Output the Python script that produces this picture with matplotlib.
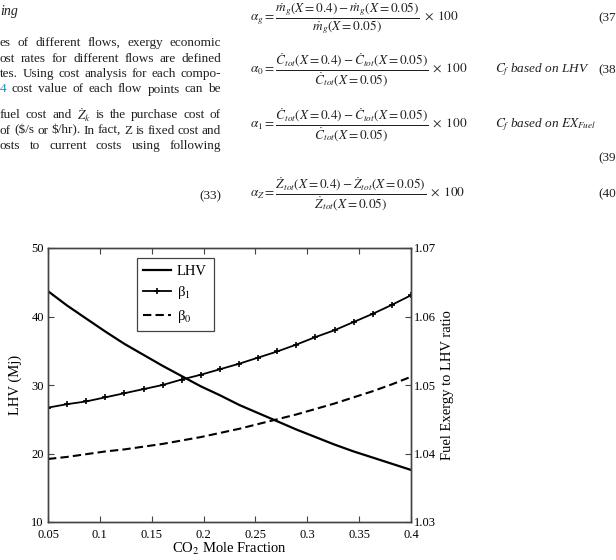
import matplotlib
matplotlib.use('Agg')
import matplotlib.pyplot as plt

plt.rcParams['font.family'] = ['Liberation Serif', 'DejaVu Serif']
plt.rcParams['mathtext.fontset'] = 'stix'

# data
co2 = [0.05, 0.0684, 0.0868, 0.1053, 0.1237, 0.1421, 0.1605, 0.1789, 0.1974, 0.2158,
       0.2342, 0.2526, 0.2711, 0.2895, 0.3079, 0.3263, 0.3447, 0.3632, 0.3816, 0.4]
lhv = [43.7, 41.6, 39.7, 37.8, 36.0, 34.4, 32.8, 31.3, 29.8, 28.5,
       27.1, 25.9, 24.7, 23.5, 22.4, 21.3, 20.3, 19.4, 18.5, 17.6]
beta1 = [1.0467, 1.0472, 1.0476, 1.0482, 1.0488, 1.0494, 1.0500, 1.0508, 1.0515, 1.0523,
         1.0531, 1.0540, 1.0549, 1.0559, 1.0570, 1.0580, 1.0592, 1.0604, 1.0617, 1.0631]
beta0 = [1.0392, 1.0395, 1.0399, 1.0403, 1.0406, 1.0410, 1.0414, 1.0419, 1.0424, 1.0430,
         1.0436, 1.0443, 1.0450, 1.0457, 1.0465, 1.0473, 1.0482, 1.0491, 1.0501, 1.0512]

xticks = [0.05, 0.1, 0.15, 0.2, 0.25, 0.3, 0.35, 0.4]
xtick_labels = ['0.05', '0.1', '0.15', '0.2', '0.25', '0.3', '0.35', '0.4']
lticks = [10, 20, 30, 40, 50]
rticks = [1.03, 1.04, 1.05, 1.06, 1.07]
rtick_labels = ['1.03', '1.04', '1.05', '1.06', '1.07']

# surrounding page text
para_lines = [
    "es of different flows, exergy economic",
    "ost rates for different flows are defined",
    "tes. Using cost analysis for each compo-",
    "4 cost value of each flow points can be",
    r"fuel cost and $\dot{Z}_k$ is the purchase cost of",
    r"of (\$/s or \$/hr). In fact, Z is fixed cost and",
    "osts to current costs using following",
]
para_y = [43, 58.5, 74, 89.5, 115, 130.5, 146]

equations = [
    r'$\alpha_g = \dfrac{\dot{m}_g(X = 0.4) - \dot{m}_g(X = 0.05)}{\dot{m}_g(X = 0.05)}\;\times\;100$',
    r'$\alpha_0 = \dfrac{\dot{C}_{tot}(X = 0.4) - \dot{C}_{tot}(X = 0.05)}{\dot{C}_{tot}(X = 0.05)}\;\times\;100$',
    r'$\alpha_1 = \dfrac{\dot{C}_{tot}(X = 0.4) - \dot{C}_{tot}(X = 0.05)}{\dot{C}_{tot}(X = 0.05)}\;\times\;100$',
    r'$\alpha_Z = \dfrac{\dot{Z}_{tot}(X = 0.4) - \dot{Z}_{tot}(X = 0.05)}{\dot{Z}_{tot}(X = 0.05)}\;\times\;100$',
]
eq_y = [18, 70, 125, 194]
eq_notes = ['', r'$C_f$ based on LHV', r'$C_f$ based on $EX_{Fuel}$', '']
eq_nums = ['(37)', '(38)', '(39)', '(40)']
eq_num_y = [18, 70, 158, 194]

W, H = 616, 560
txt_col = '#231f20'
fig = plt.figure(figsize=(W / 100, H / 100), dpi=100)
renderer = fig.canvas.get_renderer()


def fy(y):
    return 1 - y / H


def put_line(line, y, x0, x1):
    words = line.split(' ')
    ts = []
    for w in words:
        c = '#1f8dc1' if w == '4' else txt_col
        ts.append(fig.text(0, fy(y), w, fontsize=9.5, va='center', ha='left', color=c))
    ws = [t.get_window_extent(renderer).width for t in ts]
    gap = (x1 - x0 - sum(ws)) / (len(ws) - 1)
    x = x0
    for t, w in zip(ts, ws):
        t.set_x(x / W)
        x += w + gap


fig.text(0, fy(12), 'ing', fontsize=10, style='italic', va='center', color=txt_col)
for line, y in zip(para_lines, para_y):
    put_line(line, y, 0, 221)
fig.text(221 / W, fy(196), '(33)', fontsize=9.5, ha='right', va='center', color=txt_col)

for eq, y, note in zip(equations, eq_y, eq_notes):
    fig.text(250 / W, fy(y), eq, fontsize=9.5, va='center', color=txt_col)
    if note:
        fig.text(495 / W, fy(y), note, fontsize=9.5, style='italic', va='center', color=txt_col)
for num, y in zip(eq_nums, eq_num_y):
    fig.text(598 / W, fy(y), num, fontsize=9.5, va='center', color=txt_col)

# chart
ax = fig.add_axes([48 / W, fy(522), 363 / W, 274 / H])
ax2 = ax.twinx()

l1, = ax.plot(co2, lhv, color='k', lw=1.6)
l2, = ax2.plot(co2, beta1, color='k', lw=1.3, marker='+', ms=5, mew=1.2)
l3, = ax2.plot(co2, beta0, color='k', lw=1.5, ls='--', dashes=(4, 2))

ax.set_xlim(0.05, 0.4)
ax.set_ylim(10, 50)
ax2.set_ylim(1.03, 1.07)
ax.set_xticks(xticks)
ax.set_xticklabels(xtick_labels)
ax.set_yticks(lticks)
ax2.set_yticks(rticks)
ax2.set_yticklabels(rtick_labels)

for a in (ax, ax2):
    for s in a.spines.values():
        s.set_color('#444444')
        s.set_linewidth(1.0)
ax.tick_params(axis='x', direction='in', top=True, length=4, labelsize=9, pad=5, color='#444444')
ax.tick_params(axis='y', direction='in', length=4, labelsize=9, pad=3, color='#444444')
ax2.tick_params(axis='y', direction='in', length=4, labelsize=9, pad=2, color='#444444')

fig.text(15 / W, fy(385), 'LHV (Mj)', rotation=90, fontsize=10.5, ha='center', va='center')
fig.text(448 / W, fy(385), 'Fuel Exergy to LHV ratio', rotation=90, fontsize=10.5,
         ha='center', va='center')
fig.text(230 / W, fy(549), r'CO$_2$ Mole Fraction', fontsize=10.5, ha='center', va='center')

leg = ax2.legend([l1, l2, l3], ['LHV', 'β$_1$', 'β$_0$'], loc='upper left',
                 bbox_to_anchor=(0.245, 0.964), borderaxespad=0, fancybox=False,
                 edgecolor='#444444', framealpha=1, fontsize=10.5, handlelength=1.9,
                 handletextpad=0.4, labelspacing=0.45, borderpad=0.45)
leg.get_frame().set_linewidth(0.9)

fig.savefig('out.png', dpi=100)
